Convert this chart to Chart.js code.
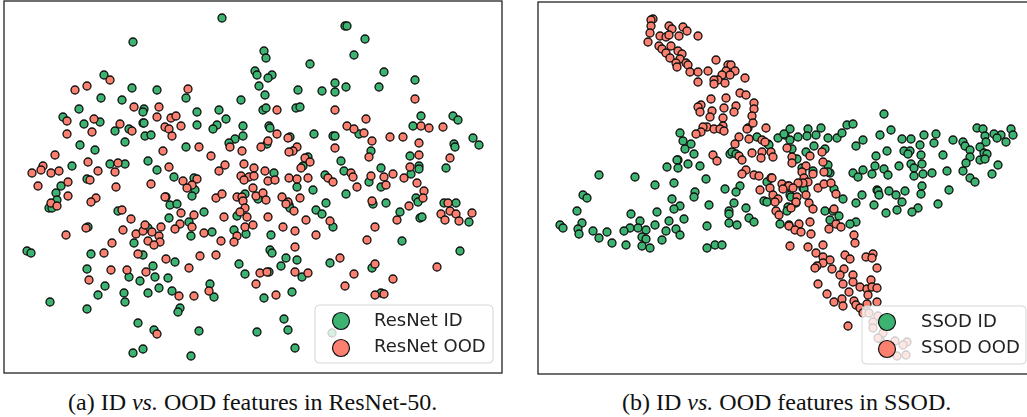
<!DOCTYPE html>
<html>
<head>
<meta charset="utf-8">
<script src="https://cdn.jsdelivr.net/npm/chart.js@4"></script>
<style>
  html, body { margin: 0; padding: 0; background: #fff; }
  body { width: 1027px; height: 417px; position: relative; overflow: hidden; }
  canvas { position: absolute; top: 0; }
  #chartA { left: 0; }
  #chartB { left: 534px; }
  .caption { position: absolute; top: 388px; font: 24px/28px "Liberation Serif", serif; color: #111; white-space: nowrap; }
  #capA { left: 68px; }
  #capB { left: 622px; }
</style>
</head>
<body>
<canvas id="chartA" width="506" height="376"></canvas>
<canvas id="chartB" width="496" height="376"></canvas>
<div class="caption" id="capA">(a) ID <i>vs.</i> OOD features in ResNet-50.</div>
<div class="caption" id="capB">(b) ID <i>vs.</i> OOD features in SSOD.</div>
<script>
// valores, [x, y] no espaco do t-SNE (sem eixos visiveis)
var resnetLabels = ['ResNet ID', 'ResNet OOD'];
var ssodLabels = ['SSOD ID', 'SSOD OOD'];

var resnetId = [[222,18],[133,42],[104,75],[132,88],[157,90],[101,98],[122,100],[186,98],[241,100],[79,109],[144,109],[143,112],[197,112],[219,110],[63,117],[84,124],[100,122],[143,123],[144,123],[197,125],[226,119],[217,125],[213,129],[243,126],[115,131],[129,129],[145,136],[151,135],[243,136],[235,139],[229,143],[125,142],[80,145],[95,150],[186,147],[148,161],[157,170],[72,166],[110,164],[125,164],[174,177],[194,178],[87,179],[61,186],[195,190],[255,71],[257,75],[259,86],
  [345,26],[347,26],[365,39],[264,51],[266,58],[354,55],[310,64],[384,72],[272,75],[268,78],[415,80],[335,83],[346,87],[379,87],[298,90],[322,91],[335,92],[265,95],[263,110],[266,108],[296,108],[300,107],[421,116],[453,116],[458,120],[269,126],[270,128],[413,126],[314,134],[290,137],[333,136],[335,136],[359,134],[473,138],[479,145],[454,144],[455,147],[267,144],[371,151],[410,156],[308,157],[341,161],[303,166],[381,168],[419,166],[419,169],[446,168],[344,171],[274,173],[411,174],[325,175],[369,182],[297,187],[313,190],[381,187],
  [56,193],[57,200],[49,208],[52,208],[118,211],[166,197],[170,205],[177,204],[192,196],[204,212],[169,218],[189,222],[245,194],[237,216],[234,230],[246,234],[88,227],[148,228],[212,232],[191,236],[134,243],[143,255],[91,254],[27,251],[31,253],[175,262],[153,266],[239,264],[245,274],[87,269],[129,277],[155,277],[168,278],[140,281],[105,286],[210,284],[98,295],[124,293],[148,293],[159,288],[172,291],[214,297],[125,302],[50,302],[87,309],[180,308],[178,312],[138,323],[154,330],[199,331],[257,332],[143,349],[133,353],[191,356],
  [346,194],[326,203],[316,210],[322,214],[333,227],[373,204],[386,203],[416,198],[418,202],[444,203],[456,203],[400,212],[420,218],[422,217],[469,222],[258,199],[289,205],[290,208],[271,235],[402,241],[270,250],[272,253],[460,251],[286,258],[297,260],[330,263],[281,266],[372,268],[269,272],[302,277],[292,292],[264,298],[381,293],[284,319],[288,330],[295,348],[332,333]];

var resnetOod = [[75,90],[87,86],[110,80],[188,89],[134,107],[159,107],[67,121],[94,119],[157,117],[171,118],[176,116],[120,124],[67,134],[92,132],[132,131],[165,127],[169,129],[181,126],[172,136],[199,147],[230,147],[261,147],[242,151],[163,151],[55,155],[211,156],[43,166],[41,170],[32,173],[51,173],[59,171],[88,162],[118,163],[98,171],[115,172],[169,167],[225,165],[219,171],[244,164],[254,168],[241,176],[249,177],[254,176],[244,180],[183,181],[197,179],[192,185],[187,188],[90,180],[68,182],[38,186],[116,187],[151,184],[253,188],
  [415,99],[277,110],[335,110],[366,119],[347,126],[354,129],[364,133],[421,126],[429,128],[443,127],[277,134],[288,138],[268,141],[390,137],[403,137],[372,141],[419,143],[297,147],[293,151],[289,152],[335,148],[369,157],[419,155],[450,158],[305,158],[310,162],[301,168],[410,167],[265,171],[351,173],[353,177],[393,174],[371,176],[384,177],[404,178],[268,181],[275,180],[289,178],[297,179],[308,178],[328,178],[333,182],[417,183],[386,185],[357,187],[424,191],
  [68,196],[96,198],[91,202],[51,203],[57,206],[122,210],[165,197],[131,219],[181,213],[194,215],[180,224],[175,229],[192,227],[224,217],[216,198],[222,194],[237,197],[242,197],[243,201],[256,196],[245,208],[240,212],[247,217],[245,227],[253,225],[237,236],[234,242],[221,241],[204,233],[86,228],[66,235],[123,230],[136,234],[143,231],[145,225],[152,232],[161,227],[159,236],[148,241],[160,242],[154,245],[112,243],[104,253],[138,254],[166,259],[200,256],[216,255],[189,268],[111,270],[127,270],[146,272],[89,280],[209,291],[179,296],[194,296],[157,334],[260,273],[256,284],
  [263,193],[266,200],[282,197],[288,202],[286,204],[294,211],[300,198],[423,198],[409,206],[372,201],[397,220],[268,217],[306,220],[330,221],[375,227],[283,227],[295,231],[316,235],[367,240],[295,247],[340,258],[375,264],[437,267],[267,272],[295,272],[308,273],[354,274],[393,279],[345,286],[276,295],[375,295],[384,294],[448,203],[450,211],[441,214],[456,214],[445,220],[459,221],[472,213]];

var ssodId = [[680,133],[683,141],[691,144],[685,149],[694,154],[678,160],[677,160],[688,164],[667,167],[678,168],[700,166],[706,179],[599,175],[635,177],[655,185],[674,183],[695,192],[725,189],[740,186],[767,182],[757,137],[768,144],[769,145],[778,138],[785,135],[790,129],[790,140],[730,154],[732,152],[736,154],[748,128],[792,149],
  [884,114],[808,129],[821,128],[847,125],[853,124],[977,128],[983,129],[1011,129],[1013,135],[1001,135],[994,134],[997,138],[985,136],[986,142],[1006,142],[980,147],[984,153],[987,154],[980,160],[985,159],[998,165],[992,174],[891,130],[880,135],[924,135],[936,134],[902,139],[911,139],[920,145],[934,143],[953,140],[963,142],[965,146],[970,150],[970,157],[966,163],[963,171],[970,178],[975,182],[863,140],[856,146],[784,134],[798,137],[807,136],[816,135],[828,138],[837,138],[842,133],[814,146],[806,152],[825,149],[887,151],[904,151],[910,151],[908,154],[921,155],[943,155],[876,156],[797,159],[828,165],[911,164],[922,164],[914,168],[899,166],[875,166],[884,169],[863,170],[853,173],[858,177],[872,174],[888,175],[923,174],[914,176],[932,173],[947,171],[830,173],[828,172],[813,171],[802,168],[922,186],[949,190],[921,194],[877,190],[878,191],[879,195],[889,191],[905,191],[896,195],[862,195],[834,189],[856,203],[843,199],[902,202],[874,205],[938,204],[918,208],[912,212],[897,210],[886,213],[825,211],[833,211],[839,216],[830,220],[856,222],[850,224],[780,224],[803,188],[804,189],[790,195],[796,203],[788,207],[787,211],
  [736,192],[694,197],[583,195],[587,198],[672,199],[734,203],[709,205],[680,206],[674,209],[577,211],[631,214],[657,212],[746,208],[729,211],[729,214],[749,218],[754,222],[684,219],[669,221],[640,221],[582,223],[560,225],[563,228],[655,225],[630,228],[638,228],[646,230],[676,229],[707,226],[729,223],[737,225],[578,229],[579,234],[593,231],[607,232],[624,231],[666,231],[599,238],[680,235],[642,237],[646,239],[662,240],[612,243],[626,245],[642,246],[650,248],[707,248],[715,245],[722,245],[764,201],[767,202],[791,197],[789,225]];

var ssodOod = [[653,19],[651,20],[651,26],[650,33],[648,42],[669,26],[672,29],[683,27],[687,31],[660,36],[666,37],[669,35],[679,36],[698,36],[659,46],[662,49],[671,46],[666,53],[678,51],[682,54],[670,58],[680,59],[676,63],[677,67],[686,63],[688,65],[690,72],[698,72],[708,71],[716,60],[728,65],[731,65],[735,71],[726,71],[730,75],[722,75],[718,80],[714,80],[714,84],[725,83],[698,82],[745,78],[740,93],[746,95],[711,99],[726,98],[701,105],[698,107],[700,112],[712,111],[710,117],[724,108],[736,106],[734,112],[723,118],[754,103],[754,109],[752,116],[753,123],[747,129],[766,128],[723,126],[707,127],[703,127],[714,129],[720,129],[724,131],[701,132],[696,134],[739,137],[749,139],[762,140],[765,142],[735,144],[787,148],[752,153],[762,152],[771,152],[773,157],[761,158],[713,155],[717,161],[739,156],[742,160],[792,157],[792,163],[746,170],[742,174],[754,175],[759,176],[771,178],[782,184],[788,186],[770,188],[760,190],
  [810,156],[822,152],[823,162],[806,166],[802,172],[813,174],[824,172],[804,178],[808,182],[803,183],[798,183],[789,186],[783,189],[793,188],[772,178],[818,188],[824,184],[831,183],[836,194],[806,195],[797,197],[796,202],[773,195],[778,199],[775,202],[809,203],[813,209],[791,208],[776,211],[779,215],[834,209],[789,226],[799,224],[795,230],[801,232],[810,222],[836,224],[841,227],[829,229],[811,234],[854,235],[855,243],[790,246],[808,247],[823,245],
  [816,253],[823,257],[830,260],[845,255],[850,259],[866,257],[873,254],[872,258],[877,268],[823,263],[817,266],[815,268],[832,269],[844,269],[840,275],[853,275],[853,282],[818,284],[843,284],[871,280],[860,287],[867,289],[872,287],[877,288],[868,295],[849,292],[827,294],[834,302],[842,299],[843,306],[854,301],[856,305],[867,304],[877,302],[860,308],[863,313],[848,326],
  [869,313],[878,316],[873,322],[873,328],[880,339],[883,333],[878,338],[895,341],[907,342],[903,345],[897,356],[906,355]];

var GREEN = '#3cb371';
var SALMON = '#fc8070';

function toPoints(list) {
  return list.map(function (p) { return { x: p[0], y: p[1] }; });
}

// moldura e legenda por cima dos pontos, como no matplotlib
function framePlugin(labels, box) {
  return {
    id: 'frameLegend',
    afterDatasetsDraw: function (chart) {
      var ctx = chart.ctx, a = chart.chartArea;
      ctx.save();
      ctx.fillStyle = 'rgba(255,255,255,0.8)';
      ctx.strokeStyle = 'rgba(204,204,204,0.8)';
      ctx.lineWidth = 1;
      ctx.beginPath();
      ctx.roundRect(box.x, box.y, box.w, box.h, 4);
      ctx.fill();
      ctx.stroke();

      var colors = [GREEN, SALMON];
      ctx.font = '18px "DejaVu Sans"';
      ctx.textBaseline = 'middle';
      for (var i = 0; i < labels.length; i++) {
        ctx.beginPath();
        ctx.arc(box.mx, box.my + i * 27, 8.5, 0, Math.PI * 2);
        ctx.fillStyle = colors[i];
        ctx.fill();
        ctx.strokeStyle = '#111';
        ctx.lineWidth = 1.2;
        ctx.stroke();
        ctx.fillStyle = '#222';
        ctx.fillText(labels[i], box.tx, box.my + i * 26.5);
      }

      ctx.strokeStyle = '#222';
      ctx.lineWidth = 1.3;
      ctx.strokeRect(a.left, a.top, a.right - a.left, a.bottom - a.top);
      ctx.restore();
    }
  };
}

function BuildChart(id, idData, oodData, labels, range, padding, box) {
  return new Chart(document.getElementById(id).getContext('2d'), {
    type: 'scatter',
    data: {
      datasets: [
        { label: labels[0], data: toPoints(idData), order: 2, backgroundColor: GREEN, borderColor: '#111', borderWidth: 1.3, pointRadius: 4 },
        { label: labels[1], data: toPoints(oodData), order: 1, backgroundColor: SALMON, borderColor: '#111', borderWidth: 1.3, pointRadius: 4 }
      ]
    },
    options: {
      responsive: false,
      animation: false,
      events: [],
      layout: { autoPadding: false, padding: padding },
      plugins: { legend: { display: false }, tooltip: { enabled: false } },
      scales: {
        x: { type: 'linear', display: false, min: range[0], max: range[1] },
        y: { type: 'linear', display: false, reverse: true, min: range[2], max: range[3] }
      }
    },
    plugins: [framePlugin(labels, box)]
  });
}

BuildChart('chartA', resnetId, resnetOod, resnetLabels, [4, 502, 1, 373],
  { left: 4, right: 4, top: 1, bottom: 3 },
  { x: 315, y: 305, w: 178, h: 58, mx: 341, my: 321, tx: 374 });
BuildChart('chartB', ssodId, ssodOod, ssodLabels, [538, 1028, 2, 374],
  { left: 4, right: 2, top: 2, bottom: 2 },
  { x: 328, y: 306, w: 164, h: 58, mx: 353, my: 322, tx: 387 });
</script>
</body>
</html>
